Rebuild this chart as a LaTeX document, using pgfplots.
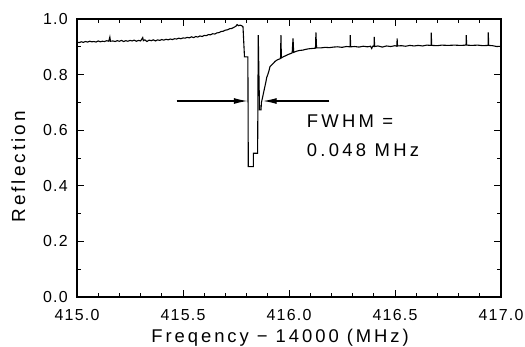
\documentclass[border=0pt]{standalone}
\usepackage{fontspec}
\setmainfont{Liberation Sans}
\newfontfamily\ticfont{Liberation Sans}[LetterSpace=8]
\newfontfamily\labfont{Liberation Sans}[LetterSpace=16]
\newfontfamily\txtfont{Liberation Sans}[LetterSpace=18]
\usepackage{pgfplots}
\pgfplotsset{compat=1.18}
\usetikzlibrary{arrows.meta}
\begin{document}
\begin{tikzpicture}
\path[use as bounding box] (-77bp,-50bp) rectangle (448bp,297bp);
\begin{axis}[
  at={(0,0)}, anchor=south west,
  scale only axis, width=424bp, height=278bp,
  xmin=415, xmax=417, ymin=0, ymax=1.0,
  xtick={415,415.5,416,416.5,417},
  xticklabels={415.0,415.5,416.0,416.5,417.0},
  ytick={0,0.2,0.4,0.6,0.8,1.0},
  yticklabels={0.0,0.2,0.4,0.6,0.8,1.0},
  minor x tick num=4, minor y tick num=1,
  tick align=inside,
  major tick length=7bp, minor tick length=4bp,
  xtick pos=both, ytick pos=both,
  axis line style={line width=1.3pt},
  every tick/.style={black, line width=1pt},
  /pgf/number format/assume math mode=true,
  xticklabel style={font=\ticfont\fontsize{16}{16}\selectfont, inner sep=0pt, anchor=base, yshift=-23bp},
  yticklabel style={font=\ticfont\fontsize{16}{16}\selectfont, inner sep=0pt, anchor=east, xshift=-9bp},
  xlabel={Freqency \symbol{"2212} 14000 (MHz)},
  xlabel style={font=\labfont\fontsize{18.5}{18.5}\selectfont, at={(axis description cs:0.479,-0.1619)}, anchor=base, inner sep=0pt},
  ylabel={Reflection},
  ylabel style={font=\labfont\fontsize{19}{19}\selectfont, at={(axis description cs:-0.1226,0.468)}, anchor=base, rotate=0, inner sep=0pt},
  clip=false,
]
\addplot[black, line width=1.1pt, line join=miter] coordinates {
(415.000,0.917) (415.010,0.915) (415.020,0.918) (415.030,0.916) (415.040,0.919)
(415.050,0.917) (415.060,0.920) (415.070,0.918) (415.080,0.919) (415.090,0.917)
(415.100,0.921) (415.110,0.918) (415.120,0.920) (415.130,0.919) (415.140,0.922)
(415.150,0.920) (415.155,0.935) (415.158,0.920) (415.170,0.921) (415.180,0.919)
(415.190,0.922) (415.200,0.920) (415.210,0.923) (415.220,0.919) (415.230,0.922)
(415.240,0.920) (415.250,0.923) (415.260,0.921) (415.270,0.924) (415.280,0.920)
(415.290,0.923) (415.300,0.921) (415.310,0.933) (415.313,0.922) (415.320,0.925)
(415.330,0.919) (415.340,0.924) (415.350,0.922) (415.360,0.925) (415.370,0.921)
(415.380,0.925) (415.390,0.923) (415.400,0.926) (415.410,0.924) (415.420,0.927)
(415.430,0.925) (415.440,0.928) (415.450,0.926) (415.460,0.929) (415.470,0.928)
(415.480,0.931) (415.490,0.929) (415.500,0.932) (415.510,0.931) (415.520,0.934)
(415.530,0.932) (415.540,0.936) (415.550,0.933) (415.560,0.937) (415.570,0.935)
(415.580,0.939) (415.590,0.937) (415.600,0.941) (415.610,0.940) (415.620,0.944)
(415.630,0.943) (415.640,0.947) (415.650,0.946) (415.660,0.950) (415.670,0.951)
(415.680,0.955) (415.690,0.956) (415.700,0.960) (415.710,0.961) (415.720,0.965)
(415.730,0.966) (415.740,0.970) (415.750,0.974) (415.755,0.980) (415.762,0.976)
(415.770,0.978) (415.778,0.975) (415.783,0.972) (415.790,0.864) (415.806,0.864)
(415.808,0.469) (415.832,0.469) (415.832,0.517) (415.852,0.517) (415.855,0.942)
(415.861,0.673) (415.868,0.673) (415.870,0.700) (415.876,0.720) (415.880,0.735)
(415.886,0.756) (415.890,0.770) (415.895,0.790) (415.900,0.800) (415.905,0.812)
(415.910,0.828) (415.915,0.832) (415.925,0.840) (415.935,0.848) (415.945,0.853)
(415.955,0.856) (415.960,0.858) (415.962,0.942) (415.964,0.860) (415.975,0.865)
(415.985,0.868) (415.995,0.872) (416.005,0.875) (416.015,0.878) (416.019,0.930)
(416.022,0.880) (416.035,0.884) (416.050,0.887) (416.065,0.888) (416.080,0.891)
(416.095,0.893) (416.110,0.894) (416.125,0.895) (416.127,0.952) (416.130,0.896)
(416.150,0.896) (416.170,0.898) (416.190,0.897) (416.210,0.899) (416.230,0.900)
(416.250,0.898) (416.270,0.901) (416.288,0.900) (416.289,0.942) (416.291,0.900)
(416.310,0.901) (416.330,0.899) (416.350,0.902) (416.370,0.900) (416.385,0.902)
(416.390,0.894) (416.395,0.902) (416.401,0.901) (416.402,0.936) (416.404,0.901)
(416.420,0.903) (416.440,0.899) (416.460,0.903) (416.480,0.901) (416.500,0.904)
(416.509,0.902) (416.510,0.930) (416.512,0.903) (416.530,0.904) (416.550,0.902)
(416.570,0.905) (416.590,0.903) (416.610,0.905) (416.630,0.903) (416.650,0.906)
(416.670,0.905) (416.671,0.951) (416.673,0.905) (416.700,0.904) (416.720,0.906)
(416.750,0.905) (416.780,0.906) (416.810,0.905) (416.835,0.906) (416.836,0.942)
(416.838,0.906) (416.860,0.905) (416.890,0.906) (416.915,0.904) (416.939,0.905)
(416.940,0.952) (416.942,0.905) (416.960,0.904) (416.980,0.901) (417.000,0.902)
};
\draw[line width=1.4pt, -{Latex[length=14bp,width=6bp]}] (axis cs:415.47,0.705) -- (axis cs:415.806,0.705);
\draw[line width=1.4pt, -{Latex[length=14bp,width=6bp]}] (axis cs:416.19,0.705) -- (axis cs:415.876,0.705);
\node[anchor=west, inner sep=0pt, font=\txtfont\fontsize{18.5}{18.5}\selectfont] at (axis cs:416.083,0.631) {FWHM =};
\node[anchor=west, inner sep=0pt, font=\txtfont\fontsize{18.5}{18.5}\selectfont] at (axis cs:416.083,0.529) {0.048 MHz};
\end{axis}
\end{tikzpicture}
\end{document}
